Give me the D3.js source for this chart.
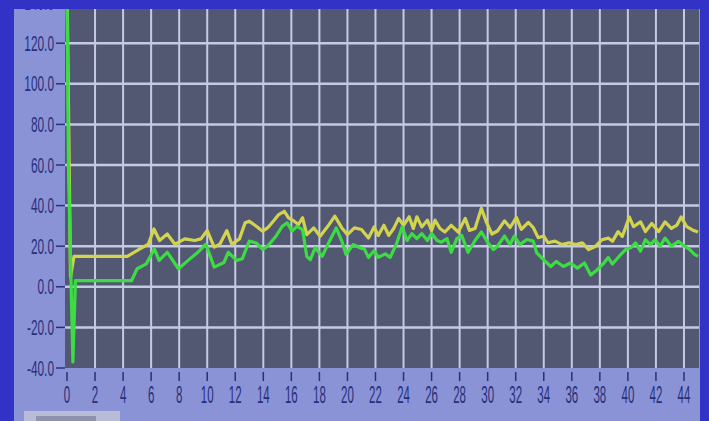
<!DOCTYPE html>
<html>
<head>
<meta charset="utf-8">
<script src="https://cdn.jsdelivr.net/npm/d3@7"></script>
<style>
  html, body { margin: 0; padding: 0; background: #3232c6; }
  svg { display: block; }
</style>
</head>
<body>
<div id="chart"></div>
<script>
// Datos
const xTicks = [0, 2, 4, 6, 8, 10, 12, 14, 16, 18, 20, 22, 24, 26, 28, 30, 32, 34, 36, 38, 40, 42, 44];
const yTicks = [-40, -20, 0, 20, 40, 60, 80, 100, 120, 140];
const yTickLabels = ['-40.0', '-20.0', '0.0', '20.0', '40.0', '60.0', '80.0', '100.0', '120.0', '140.0'];

// traza amarilla [t, valor]
const yellowTrace = [
  [0, 150], [0.25, 5], [0.5, 15], [4.3, 15], [5.2, 18.7], [5.8, 21], [6.2, 28.5], [6.6, 22.8],
  [7.15, 26], [7.7, 21], [8.4, 23.6], [9.1, 22.8], [9.55, 23.6], [10.0, 27.7], [10.5, 19.5],
  [10.9, 21], [11.4, 27.7], [11.75, 21], [12.3, 23.6], [12.7, 31.5], [13.0, 32.3], [13.5, 29.8],
  [13.95, 27.4], [14.3, 29], [14.8, 33], [15.1, 35.6], [15.5, 37.2], [15.8, 34], [16.2, 32.3],
  [16.5, 30.7], [16.8, 34], [17.1, 25.7], [17.6, 29], [18.05, 24.9], [18.6, 29.8], [19.1, 34.8],
  [19.6, 29], [20.0, 25.7], [20.5, 29], [21.0, 28.2], [21.5, 24], [21.9, 29.5], [22.2, 25.3],
  [22.6, 30.3], [22.95, 25.3], [23.3, 28.7], [23.65, 33.7], [24.0, 30.3], [24.4, 34.5],
  [24.7, 28.7], [24.95, 34.5], [25.3, 29.5], [25.7, 32.8], [26.0, 27.8], [26.25, 32.8],
  [26.6, 28.7], [26.95, 27], [27.4, 30.3], [27.9, 27], [28.4, 33.7], [28.7, 27.8], [29.1, 28.7],
  [29.55, 38.7], [29.9, 32], [30.3, 26], [30.7, 27.5], [31.2, 32.5], [31.6, 29.2], [32.05, 34.2],
  [32.4, 28.3], [32.9, 31.7], [33.25, 29.2], [33.6, 24.2], [34.0, 25], [34.3, 21.7], [34.8, 22.5],
  [35.3, 20.8], [35.8, 21.7], [36.3, 20.8], [36.75, 21.7], [37.2, 18.3], [37.7, 20], [38.15, 23.2],
  [38.6, 24], [38.9, 22.4], [39.3, 27.2], [39.6, 24.8], [40.1, 34.4], [40.4, 29.6], [40.9, 32],
  [41.25, 27.2], [41.7, 31.2], [42.2, 27.2], [42.65, 32], [43.1, 28.8], [43.5, 30.4], [43.8, 34.4],
  [44.2, 29.6], [44.6, 28], [45, 27]
];

// traza verde [t, valor]
const greenTrace = [
  [0, 150], [0.1, 60], [0.42, -37], [0.6, 3], [4.6, 3], [5.0, 8.9], [5.66, 11.3], [6.23, 18.7],
  [6.57, 13], [7.15, 17], [7.95, 8.9], [8.64, 13], [9.33, 17], [9.9, 21], [10.5, 9.7], [11.2, 12],
  [11.5, 17], [12.1, 13], [12.5, 13.8], [13.0, 22.5], [13.5, 21.6], [13.95, 18.4], [14.3, 20],
  [14.9, 24.9], [15.35, 29.8], [15.7, 31.5], [16.05, 27.4], [16.4, 29.8], [16.8, 28.2], [17.1, 15],
  [17.35, 13.4], [17.7, 19.2], [18.2, 15], [18.6, 20.8], [19.2, 29], [19.6, 22.5], [19.9, 15.9],
  [20.4, 20.8], [20.9, 19.2], [21.2, 18.7], [21.5, 14.5], [21.9, 17.8], [22.2, 14.5], [22.7, 16.2],
  [23.05, 14.5], [23.5, 21.2], [23.9, 29.5], [24.25, 22.8], [24.6, 26.2], [24.95, 23.7],
  [25.3, 26.2], [25.7, 22.8], [26.0, 26.2], [26.4, 22.8], [26.7, 22], [27.1, 23.7], [27.4, 17],
  [27.8, 23.7], [28.15, 25.3], [28.6, 17], [29.1, 22.8], [29.55, 27], [30.0, 22], [30.4, 18.3],
  [30.7, 20], [31.2, 25], [31.6, 20.8], [31.9, 25], [32.3, 20.8], [32.8, 23.3], [33.25, 22.5],
  [33.5, 16.7], [34.0, 13.3], [34.5, 10], [34.9, 12.5], [35.4, 10], [35.9, 11.7], [36.4, 9.2],
  [36.9, 11.7], [37.35, 5.8], [37.8, 8.3], [38.2, 11], [38.6, 14.4], [38.9, 11.2], [39.4, 15.2],
  [39.85, 18.4], [40.2, 19.2], [40.55, 21.6], [40.9, 17.6], [41.25, 23.2], [41.6, 20.8],
  [41.95, 23.2], [42.3, 20], [42.65, 24], [43.1, 20], [43.6, 22.4], [43.9, 20.8], [44.4, 18.4],
  [44.75, 16], [45, 15]
];

const width = 709;
const height = 421;
const plot = { left: 65, right: 699, top: 9, bottom: 368 };
const colors = {
  frame: '#3232c6',
  panel: '#8b93d7',
  plotBg: '#525871',
  grid: '#c6c9e2',
  label: '#27307a',
  yellow: '#d2d44e',
  green: '#3ddc44'
};

const svg = d3.select('#chart')
  .append('svg')
  .attr('width', width)
  .attr('height', height);

const defs = svg.append('defs');
defs.append('clipPath').attr('id', 'panelClip')
  .append('rect').attr('x', 14).attr('y', 9).attr('width', 686).attr('height', height - 9);
defs.append('clipPath').attr('id', 'plotClip')
  .append('rect')
  .attr('x', plot.left).attr('y', plot.top)
  .attr('width', plot.right - plot.left).attr('height', plot.bottom - plot.top);

svg.append('rect').attr('width', width).attr('height', height).attr('fill', colors.frame);

const panel = svg.append('g').attr('clip-path', 'url(#panelClip)');
panel.append('rect')
  .attr('x', 14).attr('y', 9).attr('width', 686).attr('height', height - 9)
  .attr('fill', colors.panel);

// Escalas
const x = d3.scaleLinear().domain([0, 45]).range([67, 698]);
const y = d3.scaleLinear().domain([-40, 140]).range([368, 2.6]);

// Area del grafico
panel.append('rect')
  .attr('x', plot.left).attr('y', plot.top)
  .attr('width', plot.right - plot.left).attr('height', plot.bottom - plot.top)
  .attr('fill', colors.plotBg);

const plotG = panel.append('g').attr('clip-path', 'url(#plotClip)');

// Rejilla
plotG.selectAll('.vgrid')
  .data(xTicks.filter(d => d > 0))
  .enter().append('line')
  .attr('x1', d => x(d)).attr('x2', d => x(d))
  .attr('y1', plot.top).attr('y2', plot.bottom)
  .attr('stroke', colors.grid).attr('stroke-width', 2);

plotG.selectAll('.hgrid')
  .data(yTicks.filter(d => d > -40))
  .enter().append('line')
  .attr('x1', plot.left).attr('x2', plot.right)
  .attr('y1', d => y(d)).attr('y2', d => y(d))
  .attr('stroke', colors.grid).attr('stroke-width', 2.5);

// Trazas
const line = d3.line().x(d => x(d[0])).y(d => y(d[1]));

plotG.append('path')
  .datum(yellowTrace)
  .attr('d', line)
  .attr('fill', 'none')
  .attr('stroke', colors.yellow)
  .attr('stroke-width', 3.2)
  .attr('stroke-linejoin', 'round');

plotG.append('path')
  .datum(greenTrace)
  .attr('d', line)
  .attr('fill', 'none')
  .attr('stroke', colors.green)
  .attr('stroke-width', 3.2)
  .attr('stroke-linejoin', 'round');

// Etiquetas del eje Y
yTicks.forEach((v, i) => {
  panel.append('text')
    .attr('transform', `translate(54,${y(v) + 7.5}) scale(0.54,1)`)
    .attr('text-anchor', 'end')
    .attr('font-family', 'Liberation Sans, Arial, sans-serif')
    .attr('font-size', 22)
    .attr('fill', colors.label)
    .text(yTickLabels[i]);
  panel.append('line')
    .attr('x1', 56).attr('x2', plot.left)
    .attr('y1', y(v)).attr('y2', y(v))
    .attr('stroke', colors.label).attr('stroke-width', 1.5);
});

// Etiquetas del eje X
panel.selectAll('.xtick')
  .data(xTicks)
  .enter().append('line')
  .attr('x1', d => x(d)).attr('x2', d => x(d))
  .attr('y1', 372).attr('y2', 381)
  .attr('stroke', colors.label).attr('stroke-width', 1.5);

panel.selectAll('.xlabel')
  .data(xTicks)
  .enter().append('text')
  .attr('transform', d => `translate(${x(d)},403) scale(0.5,1)`)
  .attr('text-anchor', 'middle')
  .attr('font-family', 'Liberation Sans, Arial, sans-serif')
  .attr('font-size', 23)
  .attr('fill', colors.label)
  .text(d => d);

// Boton inferior
panel.append('rect')
  .attr('x', 24).attr('y', 411).attr('width', 96).attr('height', 12)
  .attr('fill', '#b9bcd6');
panel.append('rect')
  .attr('x', 36).attr('y', 416).attr('width', 60).attr('height', 6)
  .attr('fill', '#8e92ae');
</script>
</body>
</html>
